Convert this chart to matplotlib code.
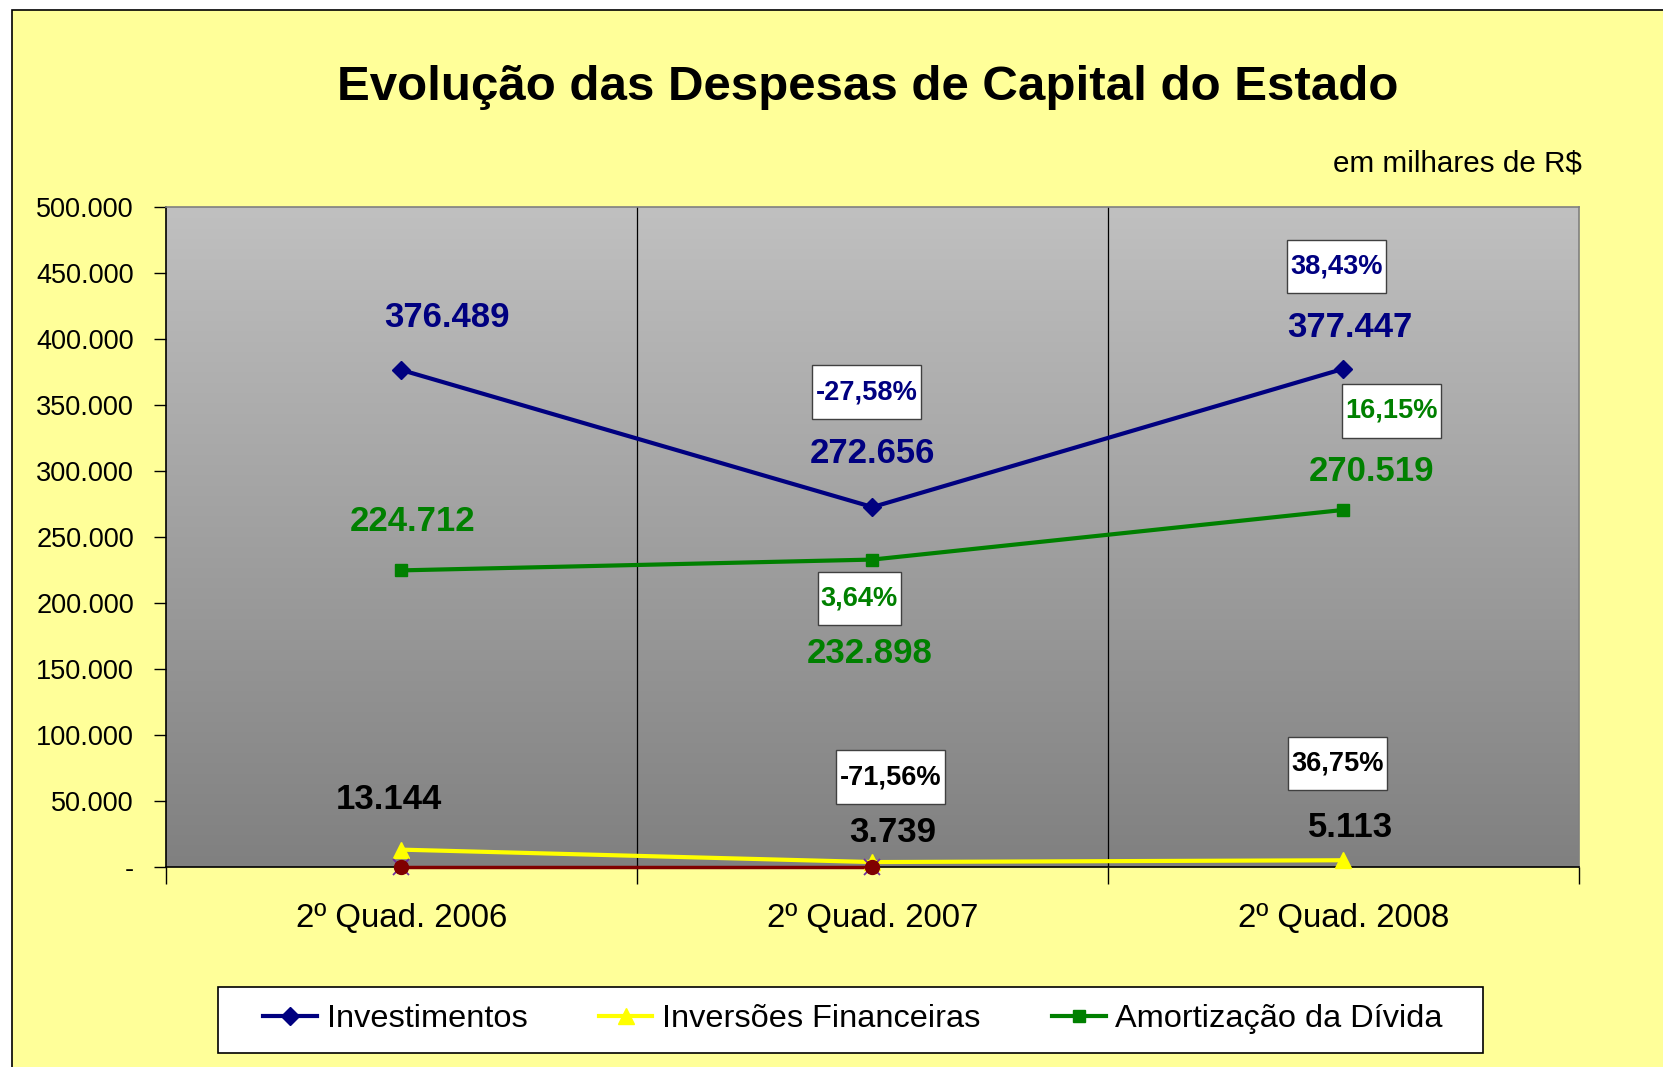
import numpy as np
import matplotlib
matplotlib.use("Agg")
from matplotlib import pyplot as plt
from matplotlib.patches import Rectangle
from matplotlib.path import Path

plt.rcParams['font.family'] = ['Liberation Sans', 'DejaVu Sans']

categories = ['2º Quad. 2006', '2º Quad. 2007', '2º Quad. 2008']
investimentos = [376489, 272656, 377447]
inversoes = [13144, 3739, 5113]
amortizacao = [224712, 232898, 270519]
outras = [0, 0, np.nan]  # hidden series sitting on the axis

inv_labels = ['376.489', '272.656', '377.447']
ivf_labels = ['13.144', '3.739', '5.113']
amo_labels = ['224.712', '232.898', '270.519']
inv_pct = ['', '-27,58%', '38,43%']
ivf_pct = ['', '-71,56%', '36,75%']
amo_pct = ['', '3,64%', '16,15%']

yticks = [0, 50000, 100000, 150000, 200000, 250000, 300000, 350000, 400000, 450000, 500000]
ytick_labels = ['-', '50.000', '100.000', '150.000', '200.000', '250.000', '300.000',
                '350.000', '400.000', '450.000', '500.000']

NAVY = '#000080'
GREEN = '#008000'
YELLOW = '#FFFF00'

fig = plt.figure(figsize=(16.63, 10.67), dpi=100)
fig.patch.set_facecolor('white')
bg = Rectangle((12/1663, -0.02), 1.05, 1.02 - 10/1067, transform=fig.transFigure,
               facecolor='#FFFF99', edgecolor='black', linewidth=1.2, zorder=-10)
fig.add_artist(bg)

ax = fig.add_axes([166/1663, 1 - 867/1067, 1413/1663, 660/1067])
ax.set_facecolor('none')

# gradient background of plot area
grad = np.linspace(0, 1, 256).reshape(-1, 1)
ax.imshow(grad, extent=[0, 1, 0, 1], transform=ax.transAxes, aspect='auto',
          cmap=matplotlib.colors.LinearSegmentedColormap.from_list('g', ['#c0c0c0', '#808080']),
          zorder=0)

x = np.arange(len(categories))
ax.plot(x, outras, color='#800000', lw=2.5, zorder=3, clip_on=False, label='_nolegend_')
ax.plot(x, investimentos, color=NAVY, lw=3, marker='D', ms=9, zorder=4, clip_on=False, label='Investimentos')
ax.plot(x, inversoes, color=YELLOW, lw=3, marker='^', ms=12, zorder=4, clip_on=False, label='Inversões Financeiras')
ax.plot(x, amortizacao, color=GREEN, lw=3, marker='s', ms=9, zorder=4, clip_on=False, label='Amortização da Dívida')
ax.plot(x, outras, color='#7030A0', lw=0, marker='x', ms=11, mew=1.3, zorder=5, clip_on=False, label='_nolegend_')
ax.plot(x, outras, color='#800000', lw=0, marker='o', ms=10, zorder=5, clip_on=False, label='_nolegend_')

ax.set_xlim(-0.5, 2.5)
ax.set_ylim(0, 500000)
ax.set_yticks(yticks)
ax.set_yticklabels(ytick_labels)
ax.set_xticks(x)
ax.set_xticklabels(categories)
ax.set_xticks([-0.5, 0.5, 1.5, 2.5], minor=True)
ax.tick_params(axis='y', direction='out', length=9, width=1, pad=14, labelsize=19.5)
ax.tick_params(axis='x', which='major', length=0, pad=26, labelsize=23.8)
ax.tick_params(axis='x', which='minor', direction='out', length=12, width=1)
for b in [0.5, 1.5]:
    ax.axvline(b, color='black', lw=0.9, zorder=1)
ax.spines['left'].set_color('black')
ax.spines['bottom'].set_color('black')
ax.spines['top'].set_color('#808080')
ax.spines['right'].set_color('#808080')
for s in ax.spines.values():
    s.set_linewidth(1.2)

px = 72 / 100  # pixels -> points


def tall_box(x0, y0, width, height, mutation_size):
    # narrow side padding, taller top/bottom like the Excel boxes
    padx = 0.12 * mutation_size
    pady = 0.5 * mutation_size
    x0, y0 = x0 - padx, y0 - pady
    x1, y1 = x0 + width + 2 * padx, y0 + height + 2 * pady
    return Path([(x0, y0), (x1, y0), (x1, y1), (x0, y1), (x0, y0)], closed=True)


def put_labels(values, labels, offsets, color):
    for xi, v, t, (dx, dy) in zip(x, values, labels, offsets):
        ax.annotate(t, (xi, v), xytext=(dx * px, -dy * px), textcoords='offset points',
                    ha='center', va='center', fontsize=25, fontweight='bold', color=color, zorder=6)


def put_pct(values, labels, offsets, color):
    for xi, v, t, (dx, dy) in zip(x, values, labels, offsets):
        if not t:
            continue
        ax.annotate(t, (xi, v), xytext=(dx * px, -dy * px), textcoords='offset points',
                    ha='center', va='center', fontsize=19.6, fontweight='bold', color=color, zorder=6,
                    bbox=dict(boxstyle=tall_box, facecolor='white', edgecolor='#404040', lw=1))


put_labels(investimentos, inv_labels, [(45, -53), (0, -54), (6, -41)], NAVY)
put_labels(amortizacao, amo_labels, [(11, -49), (-3, 94), (28, -38)], GREEN)
put_labels(inversoes, ivf_labels, [(-13, -50), (20, -30), (7, -33)], 'black')
put_pct(investimentos, inv_pct, [(0, 0), (-6, -115), (-7, -102)], NAVY)
put_pct(amortizacao, amo_pct, [(0, 0), (-13, 39), (48, -99)], GREEN)
put_pct(inversoes, ivf_pct, [(0, 0), (18, -85), (-6, -97)], 'black')

fig.text(868/1663, 1 - 87/1067, 'Evolução das Despesas de Capital do Estado', ha='center', va='center',
         fontsize=35.5, fontweight='bold')
fig.text(1582/1663, 1 - 164/1067, 'em milhares de R$', ha='right', va='center', fontsize=21.3)

# legend box drawn separately so it can be wider than the entries
fig.add_artist(Rectangle((218/1663, 1 - 1053/1067), 1265/1663, 66/1067, transform=fig.transFigure,
                         facecolor='white', edgecolor='black', linewidth=1.2, zorder=1))
leg = fig.legend(loc='center', bbox_to_anchor=(853/1663, 48/1067), ncol=3, fontsize=23.4,
                 frameon=False, handlelength=1.65, handletextpad=0.3, columnspacing=2.2,
                 borderpad=0.3)
leg.set_zorder(2)

fig.savefig('out.png', dpi=100)
